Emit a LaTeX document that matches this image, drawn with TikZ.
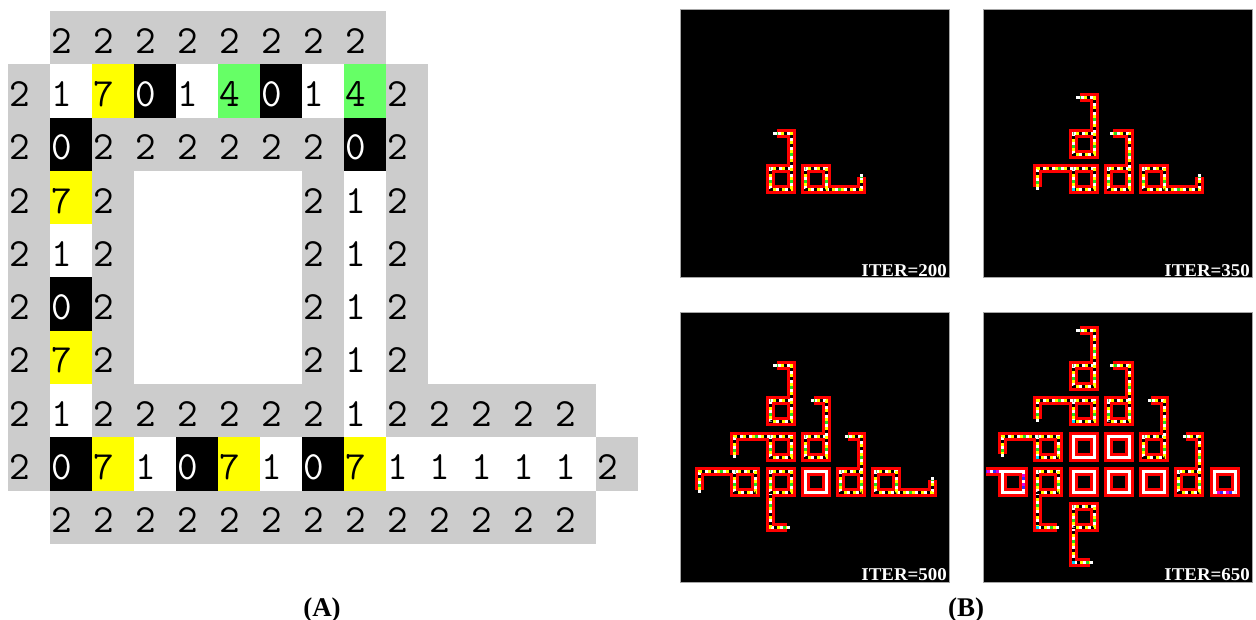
\documentclass[tikz,border=0pt]{standalone}
\usepackage{fontspec}
\setmainfont{Liberation Serif}

\definecolor{sheathgray}{HTML}{CCCCCC}
\definecolor{sigyellow}{HTML}{FFFF00}
\definecolor{siggreen}{HTML}{66FF66}
\definecolor{cagreen}{HTML}{22DD22}
\definecolor{cared}{HTML}{FF0000}
\definecolor{cacyan}{HTML}{00D8FF}
\definecolor{camag}{HTML}{E000E0}
\definecolor{cablue}{HTML}{3030FF}

\tikzset{
  digit/.style={anchor=base west, inner sep=0pt, xshift=1pt, font=\ttfamily\fontsize{40}{40}\selectfont},
  panel/.style={fill=black, draw=gray!70, line width=1pt},
  iter/.style={anchor=base east, inner sep=0pt, text=white, xscale=1.05,
    font=\bfseries\fontsize{18}{18}\selectfont},
  partlabel/.style={anchor=base, inner sep=0pt, font=\bfseries\fontsize{27}{27}\selectfont},
  tube/.style={draw=cared, line width=9pt, line join=miter},
  core/.style={draw=white, line width=3pt, line join=miter},
  sig/.style={draw=black, line width=3pt, dash pattern=on 3pt off 6pt, dash phase=6pt,
    postaction={draw=sigyellow, line width=3pt, dash pattern=on 3pt off 6pt, dash phase=3pt},
    postaction={draw=cagreen, line width=3pt, dash pattern=on 3pt off 33pt, dash phase=24pt}},
  sigp/.style={draw=camag, line width=3pt, dash pattern=on 3pt off 6pt, dash phase=6pt,
    postaction={draw=cablue, line width=3pt, dash pattern=on 3pt off 6pt, dash phase=3pt}},
  lattice/.style={shift={(15,48)}, x=35.3pt, y=-35.3pt}
}

% core offsets inside one loop (lattice units)
\def\ca{0.127}
\def\cb{0.722}

% active loops #1, arms #2, growing tips #3
\newcommand{\colony}[3]{%
  \draw[tube] foreach \cc/\rr in {#1} {(\cc+\ca,\rr+\ca) rectangle (\cc+\cb,\rr+\cb)} #2;
  \draw[core] foreach \cc/\rr in {#1} {(\cc+\ca,\rr+\ca) rectangle (\cc+\cb,\rr+\cb)} #2;
  \draw[core] #3;
  \draw[sig] foreach \cc/\rr in {#1} {(\cc+\ca,\rr+\ca) rectangle (\cc+\cb,\rr+\cb)} #2;
}
% dead loops
\newcommand{\deadloops}[1]{%
  \draw[tube] foreach \cc/\rr in {#1} {(\cc+\ca,\rr+\ca) rectangle (\cc+\cb,\rr+\cb)};
  \draw[core] foreach \cc/\rr in {#1} {(\cc+\ca,\rr+\ca) rectangle (\cc+\cb,\rr+\cb)};
}

\begin{document}
\begin{tikzpicture}[x=1pt, y=-1pt]
  \useasboundingbox (0,0) rectangle (1256,620);

  % (A) the loop and its states
  \begin{scope}[shift={(8,11)}, x=42pt, y=-53.3pt]
    % sheath, state 2
    \foreach \cc/\rr in {1/0,2/0,3/0,4/0,5/0,6/0,7/0,8/0,
        0/1,0/2,0/3,0/4,0/5,0/6,0/7,0/8,
        9/1,9/2,9/3,9/4,9/5,9/6,9/7,
        2/2,3/2,4/2,5/2,6/2,7/2,
        2/3,2/4,2/5,2/6,7/3,7/4,7/5,7/6,
        2/7,3/7,4/7,5/7,6/7,7/7,10/7,11/7,12/7,13/7,
        14/8,
        1/9,2/9,3/9,4/9,5/9,6/9,7/9,8/9,9/9,10/9,11/9,12/9,13/9}{%
      \fill[sheathgray] (\cc,\rr) rectangle ++(1,1);
      \node[digit] (cell-\cc-\rr) at (\cc,\rr+0.79) {2};}
    % state 1
    \foreach \cc/\rr in {1/1,4/1,7/1,8/3,8/4,8/5,8/6,8/7,1/4,1/7,
        3/8,6/8,9/8,10/8,11/8,12/8,13/8}{%
      \node[digit] (cell-\cc-\rr) at (\cc,\rr+0.79) {1};}
    % state 7
    \foreach \cc/\rr in {2/1,1/3,1/6,2/8,5/8,8/8}{%
      \fill[sigyellow] (\cc,\rr) rectangle ++(1,1);
      \node[digit] (cell-\cc-\rr) at (\cc,\rr+0.79) {7};}
    % state 0
    \foreach \cc/\rr in {3/1,6/1,1/2,8/2,1/5,1/8,4/8,7/8}{%
      \fill[black] (\cc,\rr) rectangle ++(1,1);
      \node[digit,text=white] (cell-\cc-\rr) at (\cc,\rr+0.79) {0};}
    % state 4
    \foreach \cc/\rr in {5/1,8/1}{%
      \fill[siggreen] (\cc,\rr) rectangle ++(1,1);
      \node[digit] (cell-\cc-\rr) at (\cc,\rr+0.79) {4};}
  \end{scope}
  \node[partlabel] (labA) at (322,616) {(A)};

  % (B) ITER=200
  \begin{scope}[shift={(680,10)}]
    \draw[panel] (0,0) rectangle (269,268);
    \begin{scope}[lattice]
      \colony{2/3,3/3}{(2+\cb,3+\ca) -- (2+\cb,2+\ca) -- (2.31,2+\ca)
        (3+\cb,3+\cb) -- (4+\cb,3+\cb) -- (4+\cb,3.36)}
        {(2.31,2+\ca) -- (2.21,2+\ca) (4+\cb,3.36) -- (4+\cb,3.29)}
    \end{scope}
    \node[iter] (iter200) at (267,266.5) {ITER=200};
  \end{scope}

  % ITER=350
  \begin{scope}[shift={(983,10)}]
    \draw[panel] (0,0) rectangle (269,268);
    \begin{scope}[lattice]
      \colony{2/2,2/3,3/3,4/3}{(2+\cb,2+\ca) -- (2+\cb,1+\ca) -- (2.31,1+\ca)
        (3+\cb,3+\ca) -- (3+\cb,2+\ca) -- (3.26,2+\ca)
        (2+\ca,3+\ca) -- (1+\ca,3+\ca) -- (1+\ca,3.66)
        (4+\cb,3+\cb) -- (5+\cb,3+\cb) -- (5+\cb,3.36)}
        {(2.31,1+\ca) -- (2.22,1+\ca) (3.26,2+\ca) -- (3.18,2+\ca)
         (1+\ca,3.66) -- (1+\ca,3.74) (5+\cb,3.36) -- (5+\cb,3.29)}
      \fill[cacyan] (2+\ca,3+\cb) +(-1.5pt,-1.5pt) rectangle +(1.5pt,1.5pt);
    \end{scope}
    \node[iter] (iter350) at (267,266.5) {ITER=350};
  \end{scope}

  % ITER=500
  \begin{scope}[shift={(680,313)}]
    \draw[panel] (0,0) rectangle (269,269);
    \begin{scope}[lattice]
      \deadloops{3/3}
      \colony{2/1,2/2,3/2,1/3,2/3,4/3,5/3}{(2+\cb,1+\ca) -- (2+\cb,\ca) -- (2.31,\ca)
        (3+\cb,2+\ca) -- (3+\cb,1+\ca) -- (3.36,1+\ca)
        (4+\cb,3+\ca) -- (4+\cb,2+\ca) -- (4.33,2+\ca)
        (2+\ca,2+\ca) -- (1+\ca,2+\ca) -- (1+\ca,2.66)
        (1+\ca,3+\ca) -- (\ca,3+\ca) -- (\ca,3.66)
        (2+\ca,3+\cb) -- (2+\ca,4+\cb) -- (2.62,4+\cb)
        (5+\cb,3+\cb) -- (6+\cb,3+\cb) -- (6+\cb,3.36)}
        {(2.31,\ca) -- (2.22,\ca) (3.36,1+\ca) -- (3.28,1+\ca)
         (4.33,2+\ca) -- (4.25,2+\ca) (1+\ca,2.66) -- (1+\ca,2.74)
         (\ca,3.66) -- (\ca,3.74) (2.62,4+\cb) -- (2.70,4+\cb)
         (6+\cb,3.36) -- (6+\cb,3.29)}
    \end{scope}
    \node[iter] (iter500) at (267,267.5) {ITER=500};
  \end{scope}

  % ITER=650
  \begin{scope}[shift={(983,313)}]
    \draw[panel] (0,0) rectangle (269,269);
    \begin{scope}[lattice]
      \deadloops{2/2,3/2,2/3,3/3,4/3}
      \colony{2/0,2/1,3/1,1/2,4/2,1/3,5/3,2/4}{(2+\cb,\ca) -- (2+\cb,-1+\ca) -- (2.31,-1+\ca)
        (3+\cb,1+\ca) -- (3+\cb,\ca) -- (3.26,\ca)
        (2+\ca,1+\ca) -- (1+\ca,1+\ca) -- (1+\ca,1.64)
        (4+\cb,2+\ca) -- (4+\cb,1+\ca) -- (4.33,1+\ca)
        (1+\ca,2+\ca) -- (\ca,2+\ca) -- (\ca,2.64)
        (5+\cb,3+\ca) -- (5+\cb,2+\ca) -- (5.33,2+\ca)
        (1+\ca,3+\cb) -- (1+\ca,4+\cb) -- (1.66,4+\cb)
        (2+\ca,4+\cb) -- (2+\ca,5+\cb) -- (2.62,5+\cb)}
        {(2.31,-1+\ca) -- (2.22,-1+\ca) (3.26,\ca) -- (3.18,\ca)
         (1+\ca,1.64) -- (1+\ca,1.72) (4.33,1+\ca) -- (4.25,1+\ca)
         (\ca,2.64) -- (\ca,2.72) (5.33,2+\ca) -- (5.25,2+\ca)
         (1.66,4+\cb) -- (1.74,4+\cb) (2.62,5+\cb) -- (2.70,5+\cb)}
      % dying loops at both ends
      \draw[tube] (\ca,3+\ca) rectangle (\cb,3+\cb) (\ca,3+\ca) -- (-0.34,3+\ca)
        (6+\ca,3+\ca) rectangle (6+\cb,3+\cb);
      \draw[core] (\ca,3+\ca) rectangle (\cb,3+\cb) (\ca,3+\ca) -- (-0.34,3+\ca)
        (6+\ca,3+\ca) rectangle (6+\cb,3+\cb);
      \draw[sigp] (\ca,3+\ca) -- (-0.34,3+\ca) (6+\ca,3+\cb) -- (6+\cb,3+\cb)
        (\cb,3+\ca) -- (\cb,3+\cb);
      \foreach \cc/\rr in {2/1,1/2,1/4,2/5}
        \fill[cacyan] (\cc+\ca,\rr+\cb) +(-1.5pt,-1.5pt) rectangle +(1.5pt,1.5pt);
    \end{scope}
    \node[iter] (iter650) at (267,267.5) {ITER=650};
  \end{scope}
  \node[partlabel] (labB) at (966,616) {(B)};
\end{tikzpicture}
\end{document}
